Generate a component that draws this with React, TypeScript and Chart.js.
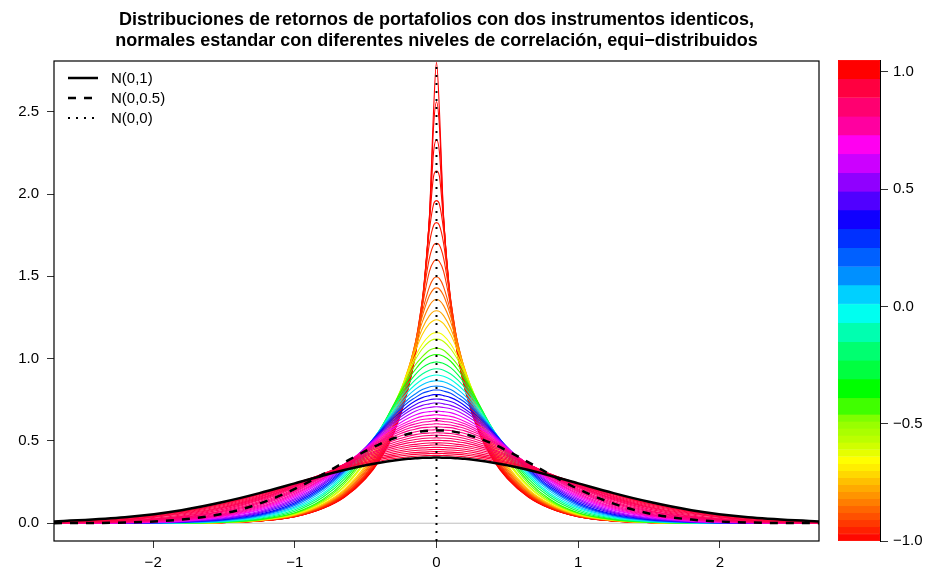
import React, { useEffect, useRef } from "react";
import { Chart, registerables } from "chart.js";

Chart.register(...registerables);

const FONT = '"Liberation Sans", Arial, Helvetica, sans-serif';

// Return grid, right half (x >= 0); each density is symmetric, the left half mirrors it.
const X_HALF = [0, 0.02, 0.05, 0.1, 0.15, 0.2, 0.3, 0.4, 0.5, 0.65, 0.8, 1.0, 1.25, 1.5, 1.8, 2.2, 2.7];

// Portfolio return densities, one per correlation level (most negative first).
const d01 = [2.8, 2.52, 1.86, 1.32, 1.02, 0.815, 0.55, 0.385, 0.271, 0.158, 0.0905, 0.0396, 0.0136, 0.0039, 0.0007, 0.00005, 0];
const d02 = [2.56, 2.42, 1.86, 1.32, 1.02, 0.82, 0.554, 0.388, 0.273, 0.159, 0.091, 0.0398, 0.0137, 0.0039, 0.0007, 0.00005, 0];
const d03 = [2.33, 2.26, 1.85, 1.33, 1.03, 0.826, 0.56, 0.392, 0.275, 0.161, 0.092, 0.0402, 0.0138, 0.004, 0.0007, 0.00005, 0];
const d04 = [2.14, 2.11, 1.83, 1.34, 1.04, 0.834, 0.566, 0.397, 0.279, 0.163, 0.0932, 0.0407, 0.014, 0.004, 0.0007, 0.00005, 0];
const d05 = [1.96, 1.94, 1.78, 1.355, 1.055, 0.85, 0.576, 0.404, 0.284, 0.166, 0.0948, 0.0415, 0.0142, 0.0041, 0.0007, 0.00005, 0];
const d06 = [1.826, 1.81, 1.7, 1.36, 1.07, 0.862, 0.587, 0.411, 0.289, 0.169, 0.0966, 0.0422, 0.0145, 0.0042, 0.0007, 0.00005, 0];
const d07 = [1.7, 1.69, 1.61, 1.35, 1.085, 0.88, 0.6, 0.42, 0.295, 0.173, 0.0987, 0.0432, 0.0148, 0.0043, 0.0007, 0.00005, 0];
const d08 = [1.6, 1.59, 1.53, 1.32, 1.09, 0.893, 0.614, 0.43, 0.302, 0.1765, 0.101, 0.0441, 0.0152, 0.0044, 0.0008, 0.00005, 0];
const d09 = [1.496, 1.487, 1.436, 1.284, 1.095, 0.914, 0.633, 0.443, 0.3115, 0.182, 0.104, 0.0455, 0.0156, 0.0045, 0.0008, 0.00005, 0];
const d10 = [1.43, 1.423, 1.383, 1.258, 1.093, 0.925, 0.647, 0.454, 0.319, 0.186, 0.107, 0.0466, 0.016, 0.0046, 0.0008, 0.00005, 0];
const d11 = [1.359, 1.354, 1.322, 1.223, 1.083, 0.934, 0.665, 0.468, 0.329, 0.192, 0.11, 0.048, 0.0165, 0.0047, 0.0008, 0.00005, 0];
const d12 = [1.291, 1.287, 1.261, 1.183, 1.066, 0.936, 0.683, 0.484, 0.341, 0.199, 0.114, 0.0498, 0.0171, 0.0049, 0.0009, 0.0001, 0];
const d13 = [1.236, 1.232, 1.212, 1.146, 1.047, 0.932, 0.697, 0.5, 0.353, 0.206, 0.118, 0.0515, 0.0177, 0.0051, 0.0009, 0.0001, 0];
const d14 = [1.157, 1.155, 1.14, 1.089, 1.013, 0.919, 0.714, 0.524, 0.374, 0.219, 0.1254, 0.0548, 0.0188, 0.0054, 0.0009, 0.0001, 0];
const d15 = [1.119, 1.117, 1.104, 1.06, 0.993, 0.909, 0.719, 0.535, 0.385, 0.227, 0.13, 0.0568, 0.0195, 0.0056, 0.001, 0.0001, 0];
const d16 = [1.064, 1.062, 1.051, 1.012, 0.961, 0.89, 0.723, 0.552, 0.404, 0.241, 0.1384, 0.0605, 0.0208, 0.006, 0.001, 0.0001, 0];
const d17 = [1.025, 1.023, 1.014, 0.984, 0.933, 0.874, 0.722, 0.564, 0.418, 0.253, 0.146, 0.0638, 0.0219, 0.0063, 0.0011, 0.0001, 0];
const d18 = [0.98, 0.977, 0.971, 0.945, 0.903, 0.848, 0.714, 0.567, 0.43, 0.268, 0.159, 0.073, 0.025, 0.0076, 0.0016, 0.0001, 0];
const d19 = [0.938, 0.937, 0.93, 0.907, 0.871, 0.824, 0.705, 0.568, 0.439, 0.281, 0.171, 0.082, 0.03, 0.0096, 0.0021, 0.0003, 0];
const d20 = [0.9, 0.899, 0.893, 0.873, 0.841, 0.799, 0.688, 0.567, 0.446, 0.293, 0.182, 0.091, 0.0345, 0.012, 0.0026, 0.0003, 0];
const d21 = [0.866, 0.864, 0.859, 0.841, 0.813, 0.775, 0.677, 0.565, 0.454, 0.305, 0.195, 0.099, 0.04, 0.014, 0.0034, 0.0005, 0];
const d22 = [0.833, 0.832, 0.828, 0.812, 0.785, 0.753, 0.664, 0.562, 0.457, 0.314, 0.206, 0.108, 0.045, 0.017, 0.005, 0.0008, 0];
const d23 = [0.809, 0.809, 0.803, 0.789, 0.763, 0.735, 0.654, 0.558, 0.457, 0.321, 0.214, 0.116, 0.049, 0.02, 0.006, 0.0008, 0];
const d24 = [0.781, 0.781, 0.775, 0.763, 0.743, 0.714, 0.641, 0.553, 0.459, 0.329, 0.223, 0.125, 0.054, 0.0225, 0.007, 0.001, 0];
const d25 = [0.755, 0.754, 0.75, 0.739, 0.72, 0.694, 0.628, 0.546, 0.46, 0.335, 0.234, 0.134, 0.061, 0.026, 0.008, 0.0015, 0.0001];
const d26 = [0.73, 0.73, 0.725, 0.716, 0.7, 0.677, 0.615, 0.542, 0.46, 0.342, 0.242, 0.142, 0.066, 0.029, 0.0094, 0.0019, 0.0002];
const d27 = [0.708, 0.707, 0.703, 0.695, 0.68, 0.657, 0.602, 0.533, 0.458, 0.349, 0.248, 0.15, 0.073, 0.033, 0.011, 0.0024, 0.0002];
const d28 = [0.682, 0.68, 0.678, 0.672, 0.658, 0.638, 0.586, 0.527, 0.455, 0.351, 0.258, 0.159, 0.08, 0.038, 0.013, 0.0031, 0.0005];
const d29 = [0.659, 0.658, 0.655, 0.649, 0.636, 0.618, 0.575, 0.519, 0.453, 0.355, 0.265, 0.167, 0.086, 0.042, 0.0155, 0.004, 0.0005];
const d30 = [0.637, 0.636, 0.634, 0.63, 0.62, 0.604, 0.562, 0.51, 0.45, 0.356, 0.27, 0.175, 0.092, 0.045, 0.018, 0.0045, 0.0006];
const d31 = [0.622, 0.622, 0.618, 0.613, 0.603, 0.59, 0.55, 0.501, 0.447, 0.357, 0.274, 0.182, 0.098, 0.049, 0.02, 0.005, 0.0007];
const d32 = [0.604, 0.603, 0.601, 0.597, 0.587, 0.576, 0.54, 0.495, 0.444, 0.359, 0.28, 0.189, 0.105, 0.053, 0.0225, 0.006, 0.0008];
const d33 = [0.586, 0.585, 0.583, 0.581, 0.571, 0.561, 0.529, 0.488, 0.44, 0.36, 0.285, 0.195, 0.111, 0.057, 0.025, 0.007, 0.001];
const d34 = [0.568, 0.567, 0.566, 0.563, 0.555, 0.545, 0.516, 0.479, 0.436, 0.359, 0.289, 0.202, 0.118, 0.0625, 0.028, 0.008, 0.0012];
const d35 = [0.55, 0.549, 0.548, 0.545, 0.538, 0.528, 0.503, 0.469, 0.432, 0.358, 0.292, 0.208, 0.125, 0.068, 0.031, 0.009, 0.0014];
const d36 = [0.535, 0.534, 0.533, 0.53, 0.524, 0.515, 0.491, 0.46, 0.425, 0.358, 0.293, 0.215, 0.132, 0.0735, 0.034, 0.01, 0.0017];
const d37 = [0.519, 0.518, 0.518, 0.515, 0.509, 0.501, 0.478, 0.45, 0.417, 0.358, 0.294, 0.221, 0.139, 0.079, 0.037, 0.011, 0.002];
const d38 = [0.503, 0.503, 0.502, 0.5, 0.494, 0.488, 0.467, 0.442, 0.411, 0.357, 0.296, 0.225, 0.145, 0.0855, 0.0405, 0.0125, 0.0025];
const d39 = [0.488, 0.488, 0.487, 0.484, 0.479, 0.474, 0.456, 0.433, 0.405, 0.356, 0.298, 0.228, 0.151, 0.092, 0.044, 0.014, 0.003];
const d40 = [0.475, 0.475, 0.474, 0.471, 0.467, 0.462, 0.445, 0.424, 0.398, 0.352, 0.3, 0.232, 0.157, 0.097, 0.05, 0.0165, 0.0035];
const d41 = [0.461, 0.461, 0.46, 0.458, 0.454, 0.449, 0.434, 0.414, 0.39, 0.348, 0.301, 0.236, 0.162, 0.102, 0.056, 0.019, 0.004];
const d42 = [0.448, 0.448, 0.447, 0.445, 0.442, 0.437, 0.423, 0.405, 0.383, 0.343, 0.299, 0.238, 0.168, 0.108, 0.0605, 0.021, 0.005];
const d43 = [0.435, 0.435, 0.434, 0.432, 0.429, 0.425, 0.412, 0.396, 0.375, 0.338, 0.297, 0.24, 0.174, 0.114, 0.065, 0.023, 0.006];
const d44 = [0.424, 0.424, 0.423, 0.421, 0.418, 0.414, 0.403, 0.387, 0.368, 0.334, 0.295, 0.241, 0.1765, 0.119, 0.069, 0.027, 0.007];
const d45 = [0.412, 0.412, 0.411, 0.41, 0.407, 0.403, 0.393, 0.378, 0.361, 0.329, 0.293, 0.242, 0.179, 0.124, 0.073, 0.031, 0.008];

const DENSITIES = [
  d01, d02, d03, d04, d05, d06, d07, d08, d09, d10, d11, d12, d13, d14, d15, d16, d17, d18, d19, d20, d21, d22, d23,
  d24, d25, d26, d27, d28, d29, d30, d31, d32, d33, d34, d35, d36, d37, d38, d39, d40, d41, d42, d43, d44, d45,
];

const DENS_COLORS = [
  "#FF0000", "#FF0000", "#FF0400", "#FF0A00", "#FF1200", "#FF1C00", "#FF2800", "#FF3800", "#FF5000",
  "#FF6800", "#FF8400", "#FFA800", "#FFD000", "#F4FF00", "#C0FF00", "#70FF00", "#20FF00", "#00FF40",
  "#00FF90", "#00FFE0", "#00C8FF", "#0080FF", "#0040FF", "#0800FF", "#4400FF", "#8000FF", "#B400FF",
  "#E400FF", "#FF00E0", "#FF00C0", "#FF00A8", "#FF0098", "#FF008C", "#FF0082", "#FF0078", "#FF0070",
  "#FF0068", "#FF0060", "#FF005A", "#FF0054", "#FF004E", "#FF0048", "#FF0042", "#FF003C", "#FF0036",
];

// Reference normals on the same grid
const N01_HALF = [0.399, 0.399, 0.398, 0.397, 0.394, 0.391, 0.381, 0.368, 0.352, 0.323, 0.29, 0.242, 0.183, 0.13, 0.079, 0.036, 0.01];
const N05_HALF = [0.564, 0.564, 0.563, 0.559, 0.552, 0.542, 0.516, 0.481, 0.439, 0.37, 0.298, 0.208, 0.119, 0.059, 0.022, 0.0045, 0.0004];

const X_MIN = -2.7;
const X_MAX = 2.7;
const Y_MIN = -0.108;
const Y_MAX = 2.808;

// Colour key: band edges (top to bottom) and fills
const CB_EDGES = [
  1.05, 0.97, 0.89, 0.81, 0.73, 0.65, 0.57, 0.49, 0.41, 0.33, 0.25, 0.17, 0.09, 0.01, -0.07, -0.15, -0.23,
  -0.31, -0.39, -0.46, -0.49, -0.52, -0.55, -0.58, -0.61, -0.64, -0.67, -0.7, -0.73, -0.76, -0.79, -0.82,
  -0.85, -0.88, -0.91, -0.94, -0.97, -1.0,
];
const CB_COLORS = [
  "#FF0000", "#FF0040", "#FF0070", "#FF00A0", "#FF00F0", "#CC00FF", "#9000FF", "#5000FF", "#1000FF",
  "#0030FF", "#0060FF", "#0090FF", "#00D0FF", "#00FFF0", "#00FFB0", "#00FF70", "#00FF40", "#00FF00",
  "#40FF00", "#7FFF00", "#99FF00", "#AAFF00", "#BBFF00", "#D0FF00", "#E6FF00", "#FFFF00", "#FFEE00",
  "#FFD800", "#FFC000", "#FFAA00", "#FF9400", "#FF7E00", "#FF6600", "#FF5000", "#FF3800", "#FF2000",
  "#FF0800",
];

const LEGEND_ROWS = [
  { label: "N(0,1)", dash: "", width: 2.5 },
  { label: "N(0,0.5)", dash: "8 8", width: 2.5 },
  { label: "N(0,0)", dash: "2 6", width: 2 },
];

function mirrored(vals: number[]) {
  const pts: { x: number; y: number }[] = [];
  for (let i = X_HALF.length - 1; i > 0; i--) pts.push({ x: -X_HALF[i], y: vals[i] });
  for (let i = 0; i < X_HALF.length; i++) pts.push({ x: X_HALF[i], y: vals[i] });
  return pts;
}

function signed(v: number, digits: number) {
  const s = Math.abs(v).toFixed(digits);
  return v < -1e-9 ? "\u2212" + s : s;
}

const framePlugin = {
  id: "frame",
  afterDatasetsDraw(chart: any) {
    const { ctx, chartArea: a } = chart;
    ctx.save();
    ctx.strokeStyle = "#000";
    ctx.lineWidth = 1.2;
    ctx.strokeRect(a.left, a.top, a.right - a.left, a.bottom - a.top);
    ctx.restore();
  },
};

export default function App() {
  const mainRef = useRef<HTMLCanvasElement>(null);
  const keyRef = useRef<HTMLCanvasElement>(null);

  useEffect(() => {
    const tickFont = { family: FONT, size: 15 };

    const datasets: any[] = [];
    datasets.push({
      data: [{ x: X_MIN, y: 0 }, { x: X_MAX, y: 0 }],
      borderColor: "#BEBEBE",
      borderWidth: 1,
      order: 200,
    });
    DENSITIES.forEach((d, i) => {
      datasets.push({
        data: mirrored(d),
        borderColor: DENS_COLORS[i],
        borderWidth: 1.1,
        cubicInterpolationMode: "monotone",
        order: 100 - i,
      });
    });
    datasets.push({
      data: mirrored(N05_HALF),
      borderColor: "#000",
      borderWidth: 2.5,
      borderDash: [8, 8],
      cubicInterpolationMode: "monotone",
      order: 2,
    });
    datasets.push({
      data: mirrored(N01_HALF),
      borderColor: "#000",
      borderWidth: 2.5,
      cubicInterpolationMode: "monotone",
      order: 1,
    });
    datasets.push({
      data: [{ x: 0, y: Y_MIN }, { x: 0, y: Y_MAX }],
      borderColor: "#000",
      borderWidth: 2,
      borderDash: [2, 6],
      order: 0,
    });

    const main = new Chart(mainRef.current!, {
      type: "line",
      data: { datasets },
      options: {
        animation: false,
        responsive: false,
        maintainAspectRatio: false,
        events: [],
        layout: { padding: { left: 0, right: 113, top: 61, bottom: 0 } },
        elements: { point: { radius: 0 }, line: { tension: 0, fill: false } },
        plugins: { legend: { display: false }, tooltip: { enabled: false }, title: { display: false } },
        scales: {
          x: {
            type: "linear",
            min: X_MIN,
            max: X_MAX,
            border: { display: false },
            grid: { display: true, drawOnChartArea: false, drawTicks: true, tickLength: 7, color: "#333" },
            ticks: {
              stepSize: 1,
              includeBounds: false,
              color: "#000",
              font: tickFont,
              padding: 6,
              maxRotation: 0,
              callback: (v: any) => signed(Number(v), 0),
            },
            afterFit: (s: any) => {
              s.height = 41;
            },
          },
          y: {
            type: "linear",
            min: Y_MIN,
            max: Y_MAX,
            border: { display: false },
            grid: { display: true, drawOnChartArea: false, drawTicks: true, tickLength: 7, color: "#333" },
            ticks: {
              stepSize: 0.5,
              includeBounds: false,
              color: "#000",
              font: tickFont,
              padding: 8,
              callback: (v: any) => signed(Number(v), 1),
            },
            afterFit: (s: any) => {
              s.width = 54;
            },
          },
        },
      },
      plugins: [framePlugin],
    } as any);

    const keyDatasets = CB_COLORS.map((c, i) => ({
      data: [[CB_EDGES[i + 1], CB_EDGES[i]]],
      backgroundColor: c,
      borderColor: c,
      borderWidth: 0.5,
      borderSkipped: false,
      grouped: false,
      barPercentage: 1,
      categoryPercentage: 1,
    }));

    const key = new Chart(keyRef.current!, {
      type: "bar",
      data: { labels: ["rho"], datasets: keyDatasets },
      options: {
        animation: false,
        responsive: false,
        maintainAspectRatio: false,
        events: [],
        layout: { padding: { left: 18, right: 0, top: 60, bottom: 41 } },
        plugins: { legend: { display: false }, tooltip: { enabled: false } },
        scales: {
          x: { display: false },
          y: {
            position: "right",
            min: -1,
            max: 1.05,
            border: { display: true, color: "#000", width: 1 },
            grid: { display: true, drawOnChartArea: false, drawTicks: true, tickLength: 8, color: "#333" },
            ticks: {
              stepSize: 0.5,
              includeBounds: false,
              color: "#000",
              font: tickFont,
              padding: 5,
              callback: (v: any) => signed(Number(v), 1),
            },
            afterFit: (s: any) => {
              s.width = 52;
            },
          },
        },
      },
    } as any);

    return () => {
      main.destroy();
      key.destroy();
    };
  }, []);

  return (
    <div style={{ position: "fixed", left: 0, top: 0, width: 932, height: 582, background: "#fff", overflow: "hidden" }}>
      <canvas ref={mainRef} width={932} height={582} style={{ position: "absolute", left: 0, top: 0, width: 932, height: 582 }} />
      <canvas ref={keyRef} width={112} height={582} style={{ position: "absolute", left: 820, top: 0, width: 112, height: 582 }} />
      <div
        style={{
          position: "absolute",
          left: 0,
          top: 9,
          width: 873,
          textAlign: "center",
          fontFamily: FONT,
          fontWeight: "bold",
          fontSize: 18,
          lineHeight: "21px",
          color: "#000",
          whiteSpace: "nowrap",
        }}
      >
        Distribuciones de retornos de portafolios con dos instrumentos identicos,
        <br />
        normales estandar con diferentes niveles de correlación, equi−distribuidos
      </div>
      <svg width={932} height={582} style={{ position: "absolute", left: 0, top: 0, pointerEvents: "none" }}>
        {LEGEND_ROWS.map((r, i) => (
          <line
            key={r.label}
            x1={68}
            x2={98}
            y1={78 + i * 20}
            y2={78 + i * 20}
            stroke="#000"
            strokeWidth={r.width}
            strokeDasharray={r.dash || undefined}
          />
        ))}
      </svg>
      {LEGEND_ROWS.map((r, i) => (
        <div
          key={r.label}
          style={{
            position: "absolute",
            left: 111,
            top: 78 + i * 20 - 9,
            height: 18,
            lineHeight: "18px",
            fontFamily: FONT,
            fontSize: 15,
            color: "#000",
            whiteSpace: "nowrap",
          }}
        >
          {r.label}
        </div>
      ))}
    </div>
  );
}
